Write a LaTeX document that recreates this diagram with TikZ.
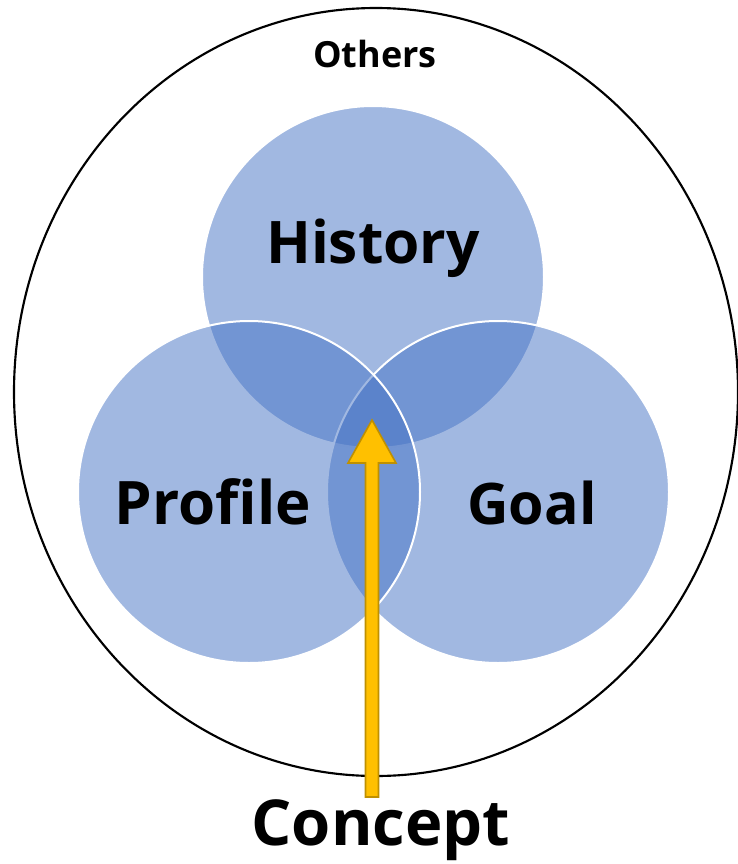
\documentclass[tikz,border=0pt]{standalone}
\usepackage{fontspec}
\setmainfont{Open Sans}
\usetikzlibrary{calc}
\definecolor{setblue}{HTML}{4472C4}
\definecolor{arrowfill}{HTML}{FFC000}
\definecolor{arrowline}{HTML}{BF9000}

\begin{document}
\begin{tikzpicture}[x=0.75pt,y=0.75pt,yscale=-1,xscale=1,
  setcircle/.style={fill=setblue,fill opacity=0.5,draw=white,line width=1.5pt},
  setlabel/.style={anchor=base,inner sep=0pt,font=\bfseries\fontsize{44}{52}\selectfont},
  conceptarrow/.style={fill=arrowfill,draw=arrowline,line width=1.2pt,line join=miter}]
\useasboundingbox (0,0) rectangle (738,864);

\draw[line width=1.6pt] (376,392) ellipse (362 and 384);

\path[setcircle] (373,277) circle (171);
\path[setcircle] (498,492) circle (171);
\path[setcircle] (249,492) circle (171);

\node[anchor=base,inner sep=0pt,font=\bfseries\fontsize{27}{32}\selectfont] (others) at (375,67) {Others};
\node[setlabel] (history) at (373,263) {History};
\node[setlabel,font=\bfseries\fontsize{45}{52}\selectfont] (profile) at (213,524) {Profile};
\node[setlabel,font=\bfseries\fontsize{43}{52}\selectfont] (goal) at (532,524) {Goal};
\node[setlabel,font=\bfseries\fontsize{47.5}{56}\selectfont] (concept) at (381,845) {Concept};

\coordinate (tip) at (372,420);
\coordinate (tail) at (372,797);
\draw[conceptarrow] ($(tail)+(-6.5,0)$) -- ($(tip)+(-6.5,43)$) -- ($(tip)+(-24,43)$) -- (tip)
  -- ($(tip)+(24,43)$) -- ($(tip)+(6.5,43)$) -- ($(tail)+(6.5,0)$) -- cycle;

\end{tikzpicture}
\end{document}
